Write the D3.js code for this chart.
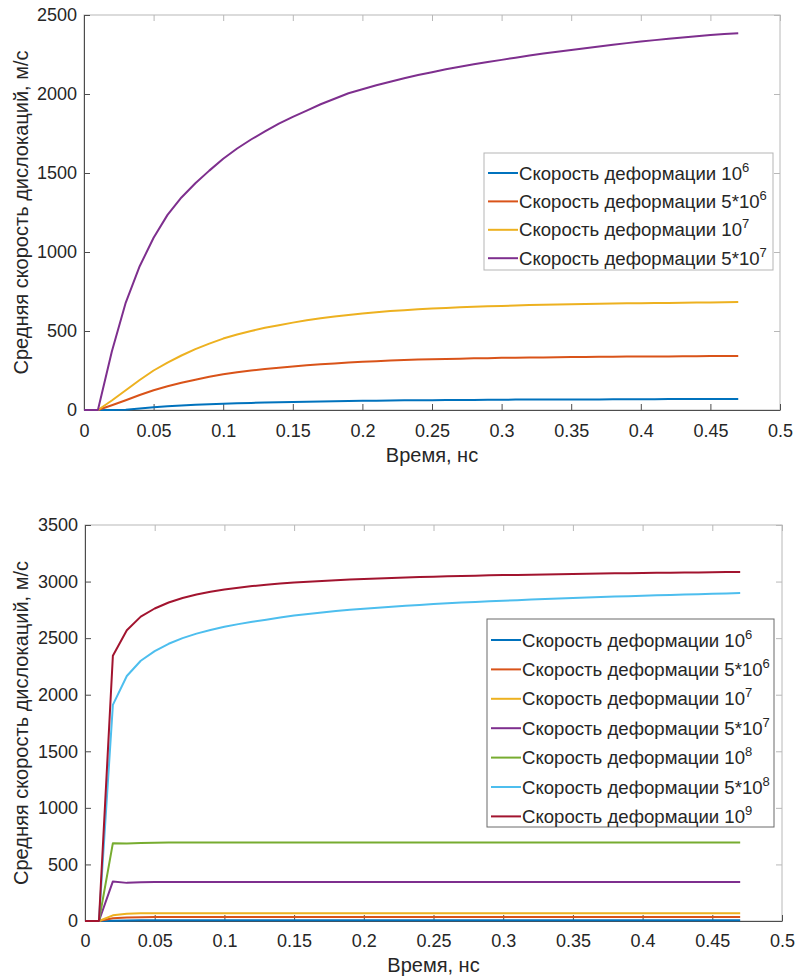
<!DOCTYPE html>
<html>
<head>
<meta charset="utf-8">
<script src="https://cdn.jsdelivr.net/npm/d3@7"></script>
<style>
  body { margin: 0; background: #fff; }
  text { font-family: "Liberation Sans", Arial, sans-serif; fill: #262626; }
</style>
</head>
<body>
<svg id="chart" width="795" height="978"></svg>
<script>
// time, ns
const times = [0, 0.01, 0.02, 0.03, 0.04, 0.05, 0.06, 0.07, 0.08, 0.09,
  0.10, 0.11, 0.12, 0.13, 0.14, 0.15, 0.16, 0.17, 0.18, 0.19,
  0.20, 0.21, 0.22, 0.23, 0.24, 0.25, 0.26, 0.27, 0.28, 0.29,
  0.30, 0.31, 0.32, 0.33, 0.34, 0.35, 0.36, 0.37, 0.38, 0.39,
  0.40, 0.41, 0.42, 0.43, 0.44, 0.45, 0.46, 0.47];

// top chart, m/s
const top1e6 = [0, 0, 0, 1, 10, 18, 24, 29, 33, 37,
  40, 43, 45, 47, 49, 51, 53, 54, 56, 57,
  58, 59, 60, 61, 62, 62, 63, 64, 64, 65,
  65, 66, 66, 66, 67, 67, 67, 67, 68, 68,
  68, 68, 69, 69, 69, 69, 69, 69];
const top5e6 = [0, 0, 30, 62, 95, 125, 150, 172, 192, 210,
  226, 239, 250, 260, 268, 276, 283, 289, 295, 300,
  305, 309, 313, 316, 319, 321, 323, 325, 327, 328,
  330, 331, 332, 333, 334, 335, 336, 337, 337, 338,
  338, 339, 339, 340, 340, 341, 341, 342];
const top1e7 = [0, 0, 60, 125, 190, 250, 300, 345, 385, 420,
  452, 478, 500, 520, 537, 553, 568, 580, 592, 602,
  611, 619, 626, 632, 637, 642, 646, 650, 653, 656,
  659, 661, 664, 666, 668, 669, 671, 672, 674, 675,
  676, 677, 678, 679, 680, 681, 682, 683];
const top5e7 = [0, 0, 370, 680, 910, 1090, 1235, 1345, 1435, 1515,
  1590, 1655, 1712, 1763, 1812, 1855, 1895, 1935, 1970, 2005,
  2030, 2055, 2078, 2100, 2120, 2138, 2156, 2172, 2188, 2202,
  2216, 2230, 2243, 2256, 2268, 2279, 2290, 2301, 2312, 2322,
  2332, 2341, 2350, 2358, 2366, 2373, 2380, 2385];

// bottom chart, m/s
const bot1e6 = [0, 0, 3, 5, 6.5, 7, 7, 7, 7, 7,
  7, 7, 7, 7, 7, 7, 7, 7, 7, 7,
  7, 7, 7, 7, 7, 7, 7, 7, 7, 7,
  7, 7, 7, 7, 7, 7, 7, 7, 7, 7,
  7, 7, 7, 7, 7, 7, 7, 7];
const bot5e6 = [0, 0, 25, 32, 34, 35, 35, 35, 35, 35,
  35, 35, 35, 35, 35, 35, 35, 35, 35, 35,
  35, 35, 35, 35, 35, 35, 35, 35, 35, 35,
  35, 35, 35, 35, 35, 35, 35, 35, 35, 35,
  35, 35, 35, 35, 35, 35, 35, 35];
const bot1e7 = [0, 0, 50, 65, 69, 69, 69, 69, 69, 69,
  69, 69, 69, 69, 69, 69, 69, 69, 69, 69,
  69, 69, 69, 69, 69, 69, 69, 69, 69, 69,
  69, 69, 69, 69, 69, 69, 69, 69, 69, 69,
  69, 69, 69, 69, 69, 69, 69, 69];
const bot5e7 = [0, 0, 350, 337, 343, 345, 345, 345, 345, 345,
  345, 345, 345, 345, 345, 345, 345, 345, 345, 345,
  345, 345, 345, 345, 345, 345, 345, 345, 345, 345,
  345, 345, 345, 345, 345, 345, 345, 345, 345, 345,
  345, 345, 345, 345, 345, 345, 345, 345];
const bot1e8 = [0, 0, 688, 686, 690, 692, 693, 693, 693, 693,
  693, 693, 693, 693, 693, 693, 693, 693, 693, 693,
  693, 693, 693, 693, 693, 693, 693, 693, 693, 693,
  693, 693, 693, 693, 693, 693, 693, 693, 693, 693,
  693, 693, 693, 693, 693, 693, 693, 693];
const bot5e8 = [0, 0, 1910, 2165, 2300, 2385, 2450, 2500, 2540, 2572,
  2600, 2624, 2645, 2663, 2682, 2700, 2714, 2727, 2739, 2750,
  2760, 2769, 2778, 2786, 2794, 2801, 2808, 2814, 2820, 2826,
  2831, 2836, 2841, 2846, 2851, 2855, 2859, 2863, 2867, 2871,
  2875, 2879, 2882, 2885, 2889, 2892, 2895, 2898];
const bot1e9 = [0, 0, 2345, 2570, 2690, 2762, 2815, 2855, 2885, 2910,
  2930, 2946, 2960, 2972, 2982, 2991, 2999, 3006, 3012, 3018,
  3023, 3028, 3032, 3036, 3040, 3043, 3046, 3049, 3052, 3055,
  3057, 3059, 3061, 3063, 3065, 3067, 3069, 3071, 3073, 3074,
  3076, 3077, 3079, 3080, 3081, 3083, 3084, 3085];

// legend labels: mantissa + exponent
const rateMantissa = ['10', '5*10', '10', '5*10', '10', '5*10', '10'];
const rateExponent = ['6', '6', '7', '7', '8', '8', '9'];
const lineColors = ['#0072BD', '#D95319', '#EDB120', '#7E2F8E', '#77AC30', '#4DBEEE', '#A2142F'];

const xTickValues = [0, 0.05, 0.1, 0.15, 0.2, 0.25, 0.3, 0.35, 0.4, 0.45, 0.5];
const topYTicks = [0, 500, 1000, 1500, 2000, 2500];
const botYTicks = [0, 500, 1000, 1500, 2000, 2500, 3000, 3500];

const X_LABEL = 'Время, нс';
const Y_LABEL = 'Средняя скорость дислокаций, м/с';
const LEGEND_PREFIX = 'Скорость деформации ';

const svg = d3.select('#chart');

drawPanel(svg, {
  left: 84, right: 780, top: 15, bottom: 410,
  yTicks: topYTicks,
  series: [top1e6, top5e6, top1e7, top5e7],
  tickPad: 14, xLabelY: 462,
  legend: { x: 484, y: 153, w: 289, h: 117, first: 20, step: 28.4, stroke: '#b5b5b5' }
});

drawPanel(svg, {
  left: 85, right: 782, top: 525, bottom: 921,
  yTicks: botYTicks,
  series: [bot1e6, bot5e6, bot1e7, bot5e7, bot1e8, bot5e8, bot1e9],
  tickPad: 13, xLabelY: 972,
  legend: { x: 487, y: 619, w: 287, h: 208, first: 21, step: 29.4, stroke: '#6a6a6a' }
});

function drawPanel(svg, opts) {
  const { left, right, top, bottom, yTicks, series, legend } = opts;
  const x = d3.scaleLinear().domain([0, 0.5]).range([left, right]);
  const y = d3.scaleLinear().domain([0, d3.max(yTicks)]).range([bottom, top]);
  const g = svg.append('g');

  // box (top/right edges)
  g.append('rect')
    .attr('x', left).attr('y', top)
    .attr('width', right - left).attr('height', bottom - top)
    .attr('fill', 'none')
    .attr('stroke', '#b8b8b8')
    .attr('stroke-width', 1);

  // top & right tick marks, no labels
  g.append('g')
    .attr('transform', `translate(0,${top})`)
    .call(d3.axisTop(x).tickValues(xTickValues).tickSizeInner(-6).tickSizeOuter(0).tickFormat(''))
    .call(a => a.select('.domain').remove())
    .call(a => a.selectAll('line').attr('stroke', '#b8b8b8'));

  g.append('g')
    .attr('transform', `translate(${right},0)`)
    .call(d3.axisRight(y).tickValues(yTicks).tickSizeInner(-6).tickSizeOuter(0).tickFormat(''))
    .call(a => a.select('.domain').remove())
    .call(a => a.selectAll('line').attr('stroke', '#b8b8b8'));

  // bottom axis
  g.append('g')
    .attr('transform', `translate(0,${bottom})`)
    .call(d3.axisBottom(x).tickValues(xTickValues).tickSizeInner(-6).tickSizeOuter(0)
      .tickPadding(opts.tickPad).tickFormat(d => String(d)))
    .call(styleAxis);

  // left axis
  g.append('g')
    .attr('transform', `translate(${left},0)`)
    .call(d3.axisLeft(y).tickValues(yTicks).tickSizeInner(-6).tickSizeOuter(0)
      .tickPadding(7).tickFormat(d => String(d)))
    .call(styleAxis);

  // lines
  const line = d3.line()
    .x((d, i) => x(times[i]))
    .y(d => y(d));

  g.append('g')
    .selectAll('path')
    .data(series)
    .enter()
    .append('path')
    .attr('d', line)
    .attr('fill', 'none')
    .attr('stroke', (d, i) => lineColors[i])
    .attr('stroke-width', 2)
    .attr('stroke-linejoin', 'round');

  // axis labels
  g.append('text')
    .attr('x', (left + right) / 2)
    .attr('y', opts.xLabelY)
    .attr('text-anchor', 'middle')
    .style('font-size', '20px')
    .text(X_LABEL);

  g.append('text')
    .attr('transform', `translate(28,${(top + bottom) / 2}) rotate(-90)`)
    .attr('text-anchor', 'middle')
    .style('font-size', '20px')
    .text(Y_LABEL);

  drawLegend(g, series.length, legend);
}

function styleAxis(a) {
  a.select('.domain').attr('stroke', '#4d4d4d').attr('stroke-width', 1);
  a.selectAll('.tick line').attr('stroke', '#4d4d4d');
  a.selectAll('.tick text')
    .style('font-size', '18px')
    .style('font-family', '"Liberation Sans", Arial, sans-serif')
    .attr('fill', '#262626');
}

function drawLegend(g, count, box) {
  const lg = g.append('g').attr('class', 'legend');

  lg.append('rect')
    .attr('x', box.x).attr('y', box.y)
    .attr('width', box.w).attr('height', box.h)
    .attr('fill', '#fff')
    .attr('stroke', box.stroke)
    .attr('stroke-width', 1);

  const rows = lg.selectAll('.legend-row')
    .data(d3.range(count))
    .enter()
    .append('g')
    .attr('class', 'legend-row')
    .attr('transform', i => `translate(${box.x},${box.y + box.first + i * box.step})`);

  rows.append('line')
    .attr('x1', 4).attr('x2', 34)
    .attr('y1', 0).attr('y2', 0)
    .attr('stroke', i => lineColors[i])
    .attr('stroke-width', 2);

  const label = rows.append('text')
    .attr('x', 35)
    .attr('y', 6.5)
    .style('font-size', '18.6px');

  label.append('tspan').text(i => LEGEND_PREFIX + rateMantissa[i]);
  label.append('tspan')
    .attr('dy', -8)
    .style('font-size', '13px')
    .text(i => rateExponent[i]);
}
</script>
</body>
</html>
